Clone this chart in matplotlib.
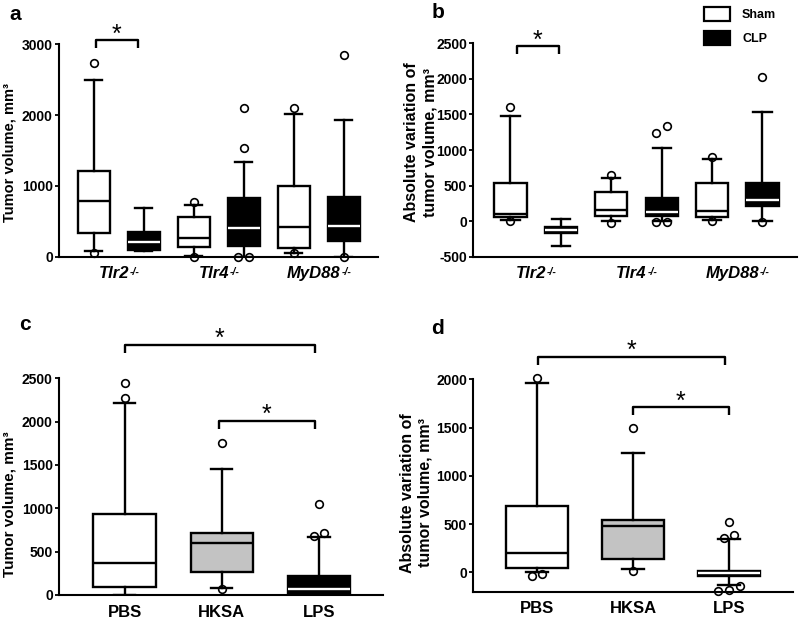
import matplotlib
matplotlib.use("Agg")
import matplotlib.pyplot as plt
import numpy as np
from matplotlib.patches import Patch

plt.rcParams["font.family"] = ["Liberation Sans", "DejaVu Sans"]
plt.rcParams["font.weight"] = "bold"

# box stats: whislo, q1, median, q3, whishi
GENOTYPES = ["Tlr2", "Tlr4", "MyD88"]
GENOTYPE_SUP = "-/-"
TREATMENTS = ["PBS", "HKSA", "LPS"]

a_sham = [[85, 329, 791, 1209, 2494], [9, 141, 268, 565, 729], [56, 118, 414, 998, 2014]]
a_sham_out = [[2729, 56], [767, 0], [2104, 47]]
a_clp = [[80, 94, 202, 353, 692], [0, 151, 409, 824, 1332], [0, 226, 433, 847, 1929]]
a_clp_out = [[], [2094, 1529, 0, 0], [2847, 0]]

b_sham = [[14, 61, 98, 530, 1477], [0, 75, 155, 403, 600], [14, 52, 145, 539, 868]]
b_sham_out = [[1609, 5], [647, -23], [896, 0]]
b_clp = [[-347, -164, -127, -80, 28], [0, 70, 122, 328, 1022], [0, 216, 291, 530, 1529]]
b_clp_out = [[], [1341, 1243, -19, -19], [2031, -9]]

c_stats = [[0, 88, 373, 931, 2219], [77, 269, 596, 719, 1454], [10, 20, 68, 223, 673]]
c_out = [[2450, 2269], [1758, 69], [1046, 685, 719]]

d_stats = [[0, 45, 200, 690, 1966], [34, 138, 476, 538, 1234], [-128, -41, -7, 17, 345]]
d_out = [[2010, -34, -17], [1493, 10], [517, 383, 355, -138, -197, -179]]

# significance brackets: x from, x to, height
a_brackets = [(0.77, 1.19, 3059)]
b_brackets = [(0.81, 1.23, 2463)]
c_brackets = [(1.0, 2.96, 2887), (1.97, 2.96, 2012)]
d_brackets = [(1.01, 2.96, 2234), (2.0, 3.0, 1710)]

LW = 1.7
GRAY = "#c3c3c3"


def spread_offsets(vals, thresh, step):
    vals = np.asarray(vals, dtype=float)
    order = np.argsort(vals)
    offsets = np.zeros(len(vals))
    cluster = []
    for idx in list(order) + [None]:
        if idx is not None and (not cluster or vals[idx] - vals[cluster[-1]] < thresh):
            cluster.append(idx)
            continue
        n = len(cluster)
        for k, ci in enumerate(cluster):
            offsets[ci] = (k - (n - 1) / 2) * step
        cluster = [idx] if idx is not None else []
    return offsets


def draw_boxes(ax, positions, stats, outliers, colors, width, capwidth):
    span = ax.get_ylim()[1] - ax.get_ylim()[0]
    for pos, s, outs, col in zip(positions, stats, outliers, colors):
        st = dict(whislo=s[0], q1=s[1], med=s[2], q3=s[3], whishi=s[4], fliers=[])
        ax.bxp([st], positions=[pos], widths=width, capwidths=capwidth,
               patch_artist=True, showfliers=False, manage_ticks=False,
               boxprops=dict(facecolor=col, edgecolor="black", linewidth=LW),
               medianprops=dict(color="white" if col == "black" else "black", linewidth=LW),
               whiskerprops=dict(color="black", linewidth=LW),
               capprops=dict(color="black", linewidth=LW))
        if outs:
            offs = spread_offsets(outs, 0.04 * span, 0.11)
            ax.plot(pos + offs, outs, "o", mfc="none", mec="black", ms=5.5, mew=1.2,
                    clip_on=False, zorder=5)


def add_brackets(ax, brackets):
    span = ax.get_ylim()[1] - ax.get_ylim()[0]
    h_px = ax.get_window_extent().height
    drop = 8 / h_px * span
    for x1, x2, y in brackets:
        ax.plot([x1, x1, x2, x2], [y - drop, y, y, y - drop], color="black",
                lw=LW, clip_on=False, solid_capstyle="butt")
        ax.annotate("*", xy=((x1 + x2) / 2, y), xytext=(0, 4), textcoords="offset points",
                    ha="center", va="center", fontsize=18, fontweight="normal",
                    annotation_clip=False)


def style_axis(ax, yticks, xlabels, xpos):
    for side in ("top", "right"):
        ax.spines[side].set_visible(False)
    for side in ("left", "bottom"):
        ax.spines[side].set_linewidth(1.5)
    ax.set_yticks(yticks)
    ax.set_yticklabels([str(t) for t in yticks])
    ax.tick_params(axis="y", length=3, width=1.3, pad=1.5, labelsize=10)
    ax.set_xticks(xpos)
    ax.set_xticklabels(xlabels)
    ax.tick_params(axis="x", length=0, pad=7, labelsize=12)


def genotype_labels(fig, ax, names, xpos):
    # italic gene name with a small "-/-" superscript, centred as a pair
    ax.set_xticks(xpos)
    ax.set_xticklabels([])
    renderer = fig.canvas.get_renderer()
    for x, name in zip(xpos, names):
        main = ax.annotate(name, xy=(x, 0), xycoords=("data", "axes fraction"),
                           xytext=(0, -7), textcoords="offset points", ha="center", va="top",
                           fontsize=12, fontstyle="italic", fontweight="bold",
                           annotation_clip=False)
        sup = ax.annotate(GENOTYPE_SUP, xy=(x, 0), xycoords=("data", "axes fraction"),
                          xytext=(0, -7), textcoords="offset points", ha="left", va="top",
                          fontsize=7.5, fontstyle="italic", fontweight="bold",
                          annotation_clip=False)
        w_main = main.get_window_extent(renderer).width
        w_sup = sup.get_window_extent(renderer).width
        px_to_pt = 72 / fig.dpi
        main.set_position((-w_sup / 2 * px_to_pt, -7))
        sup.set_position(((w_main / 2 - w_sup / 2 + 1) * px_to_pt, -7.5))


fig = plt.figure(figsize=(8, 6.19), dpi=100)
pos = np.arange(1, 4)

# panel a
ax_a = fig.add_axes([0.07375, 0.5853, 0.39875, 0.3433])
ax_a.set_xlim(0.405, 3.59)
ax_a.set_ylim(0, 3000)
draw_boxes(ax_a, pos - 0.25, a_sham, a_sham_out, ["white"] * 3, 0.32, 0.17)
draw_boxes(ax_a, pos + 0.25, a_clp, a_clp_out, ["black"] * 3, 0.32, 0.17)
style_axis(ax_a, [0, 1000, 2000, 3000], GENOTYPES, pos)
add_brackets(ax_a, a_brackets)
ax_a.set_ylabel("Tumor volume, mm³", fontsize=10.5, fontweight="bold")
ax_a.yaxis.set_label_coords(-0.132, 0.49)

# panel b
ax_b = fig.add_axes([0.5916, 0.5853, 0.4043, 0.3447])
ax_b.set_xlim(0.381, 3.59)
ax_b.set_ylim(-500, 2500)
draw_boxes(ax_b, pos - 0.25, b_sham, b_sham_out, ["white"] * 3, 0.32, 0.18)
draw_boxes(ax_b, pos + 0.25, b_clp, b_clp_out, ["black"] * 3, 0.32, 0.18)
style_axis(ax_b, list(range(-500, 2501, 500)), GENOTYPES, pos)
add_brackets(ax_b, b_brackets)
ax_b.set_ylabel("Absolute variation of\ntumor volume, mm³", fontsize=11.5, fontweight="bold",
                linespacing=1.25)
ax_b.yaxis.set_label_coords(-0.112, 0.537)

# panel c
ax_c = fig.add_axes([0.07375, 0.0388, 0.405, 0.3501])
ax_c.set_xlim(0.325, 3.66)
ax_c.set_ylim(0, 2500)
draw_boxes(ax_c, pos, c_stats, c_out, ["white", GRAY, "black"], 0.64, 0.22)
style_axis(ax_c, list(range(0, 2501, 500)), TREATMENTS, pos)
add_brackets(ax_c, c_brackets)
ax_c.set_ylabel("Tumor volume, mm³", fontsize=11, fontweight="bold")
ax_c.yaxis.set_label_coords(-0.13, 0.42)

# panel d
ax_d = fig.add_axes([0.5916, 0.0441, 0.40, 0.3431])
ax_d.set_xlim(0.336, 3.67)
ax_d.set_ylim(-200, 2000)
draw_boxes(ax_d, pos, d_stats, d_out, ["white", GRAY, "black"], 0.65, 0.22)
style_axis(ax_d, list(range(0, 2001, 500)), TREATMENTS, pos)
add_brackets(ax_d, d_brackets)
ax_d.set_ylabel("Absolute variation of\ntumor volume, mm³", fontsize=11.5, fontweight="bold",
                linespacing=1.25)
ax_d.yaxis.set_label_coords(-0.126, 0.465)

for letter, x, y in [("a", 15, 14), ("b", 438, 12), ("c", 25, 325), ("d", 437, 329)]:
    fig.text(x / 800, 1 - y / 619, letter, fontsize=15, fontweight="bold", ha="center", va="center")

handles = [Patch(facecolor="white", edgecolor="black", linewidth=1.6),
           Patch(facecolor="black", edgecolor="black", linewidth=1.6)]
fig.legend(handles, ["Sham", "CLP"], loc="upper left", bbox_to_anchor=(704 / 800, 1 - 7 / 619),
           frameon=False, fontsize=9, handlelength=2.1, handleheight=1.4, labelspacing=0.75,
           handletextpad=0.95, borderpad=0, borderaxespad=0)

genotype_labels(fig, ax_a, GENOTYPES, pos)
genotype_labels(fig, ax_b, GENOTYPES, pos)

fig.savefig("out.png", dpi=100)
